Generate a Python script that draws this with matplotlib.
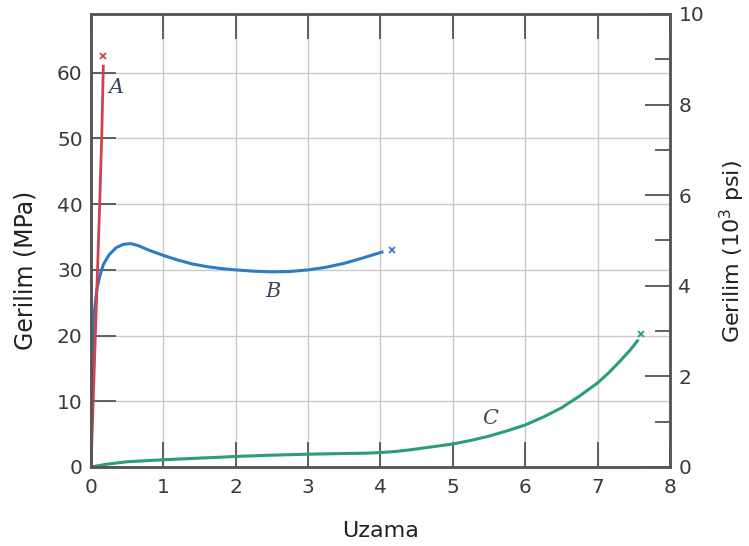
import matplotlib
matplotlib.use("Agg")
import matplotlib.pyplot as plt
import numpy as np

plt.rcParams['font.family'] = ['DejaVu Sans']

# Curve A (red)
a_x = [0.0, 0.03, 0.06, 0.09, 0.12, 0.15, 0.17]
a_y = [0.0, 10.0, 20.0, 30.0, 40.0, 51.0, 61.0]
a_end = (0.165, 62.5)

# Curve B (blue)
b_x = [0.0, 0.01, 0.03, 0.05, 0.08, 0.12, 0.17, 0.25, 0.35, 0.45, 0.55, 0.65, 0.8, 1.0, 1.2, 1.4, 1.6, 1.8, 2.0, 2.25, 2.5, 2.75, 3.0, 3.25, 3.5, 3.75, 4.02]
b_y = [0.0, 10.0, 19.0, 24.0, 27.0, 29.0, 30.8, 32.3, 33.4, 33.9, 34.0, 33.7, 33.0, 32.2, 31.5, 30.9, 30.5, 30.2, 30.0, 29.8, 29.7, 29.75, 30.0, 30.4, 31.0, 31.8, 32.7]
b_end = (4.16, 33.0)

# Curve C (green)
c_x = [0.0, 0.1, 0.2, 0.35, 0.5, 0.75, 1.0, 1.5, 2.0, 2.5, 3.0, 3.5, 3.8, 4.0, 4.2, 4.4, 4.6, 4.8, 5.0, 5.25, 5.5, 5.75, 6.0, 6.25, 6.5, 6.75, 7.0, 7.15, 7.3, 7.45, 7.55]
c_y = [0.0, 0.2, 0.4, 0.6, 0.8, 0.95, 1.1, 1.35, 1.6, 1.8, 1.95, 2.05, 2.1, 2.2, 2.35, 2.6, 2.9, 3.2, 3.5, 4.05, 4.7, 5.5, 6.4, 7.6, 9.0, 10.8, 12.8, 14.3, 16.0, 17.8, 19.2]
c_end = (7.6, 20.2)

curve_labels = ['A', 'B', 'C']
label_pos = [(0.35, 57.8), (2.51, 26.7), (5.51, 7.4)]

x_ticks = [0, 1, 2, 3, 4, 5, 6, 7, 8]
y_ticks = [0, 10, 20, 30, 40, 50, 60]
psi_ticks = [0, 2, 4, 6, 8, 10]
psi_minor = [1, 3, 5, 7, 9]

red = '#d2414f'
blue = '#2e7cc4'
green = '#2d9c78'
spine_c = '#555555'
tick_c = '#3a3a3a'

fig = plt.figure(figsize=(7.49, 5.46), dpi=100)
ax = fig.add_axes([0.1215, 0.1447, 0.773, 0.8297])
ax.set_xlim(0, 8)
ax.set_ylim(0, 68.95)

for xv in x_ticks[1:-1]:
    ax.axvline(xv, color='#c9c9c9', lw=1.0, zorder=0)
for yv in y_ticks[1:]:
    ax.axhline(yv, color='#c9c9c9', lw=1.0, zorder=0)

ax.plot(a_x, a_y, color=red, lw=2.0, zorder=3)
ax.plot(b_x, b_y, color=blue, lw=2.2, zorder=2)
ax.plot(c_x, c_y, color=green, lw=2.2, zorder=2)
ax.plot(*a_end, marker='x', color=red, ms=5, mew=1.3, zorder=4)
ax.plot(*b_end, marker='x', color=blue, ms=5, mew=1.3, zorder=4)
ax.plot(*c_end, marker='x', color=green, ms=5, mew=1.3, zorder=4)

for lab, (lx, ly) in zip(curve_labels, label_pos):
    ax.text(lx, ly, lab, fontsize=15, style='italic', family='DejaVu Serif',
            color='#3d4660', ha='center', va='center')

ax.set_xticks(x_ticks)
ax.set_yticks(y_ticks)
ax.tick_params(axis='both', direction='in', length=18, width=1.3, color=spine_c,
               labelsize=14.5, labelcolor=tick_c, top=True, pad=6)
ax.tick_params(axis='x', pad=8)
for sp in ax.spines.values():
    sp.set_color(spine_c)
    sp.set_linewidth(1.8)

ax.set_xlabel('Uzama', fontsize=16, color='#222222')
ax.set_ylabel('Gerilim (MPa)', fontsize=17, color='#222222')
ax.xaxis.set_label_coords(0.5, -0.12)
ax.yaxis.set_label_coords(-0.092, 0.435)

ax2 = ax.twinx()
ax2.set_ylim(0, 10)
ax2.set_yticks(psi_ticks)
ax2.set_yticks(psi_minor, minor=True)
ax2.tick_params(axis='y', which='major', direction='in', length=18, width=1.3,
                color=spine_c, labelsize=14.5, labelcolor=tick_c, pad=6)
ax2.tick_params(axis='y', which='minor', direction='in', length=11, width=1.3,
                color=spine_c)
for sp in ax2.spines.values():
    sp.set_color(spine_c)
    sp.set_linewidth(1.8)
ax2.set_ylabel('Gerilim (10$^3$ psi)', fontsize=16, color='#222222')
ax2.yaxis.set_label_coords(1.082, 0.476)

fig.savefig('out.png', dpi=100)
